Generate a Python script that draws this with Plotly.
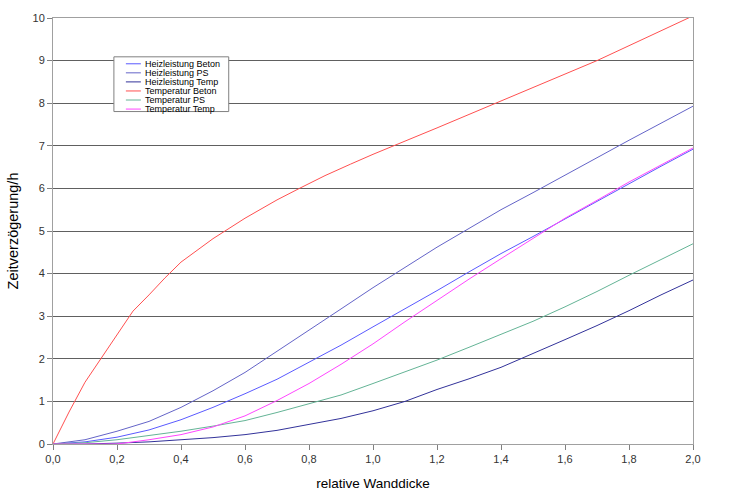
import plotly.graph_objects as go

x = [0.0, 0.1, 0.2, 0.3, 0.4, 0.5, 0.6, 0.7, 0.8, 0.9, 1.0, 1.1, 1.2, 1.3, 1.4, 1.5, 1.6, 1.7, 1.8, 1.9, 2.0]

heiz_beton = [0, 0.05, 0.16, 0.33, 0.57, 0.86, 1.18, 1.52, 1.92, 2.32, 2.75, 3.17, 3.6, 4.04, 4.47, 4.87, 5.28, 5.7, 6.12, 6.52, 6.92]
heiz_ps = [0, 0.1, 0.3, 0.53, 0.86, 1.25, 1.68, 2.17, 2.67, 3.17, 3.67, 4.15, 4.62, 5.06, 5.5, 5.9, 6.32, 6.72, 7.13, 7.53, 7.93]
heiz_temp = [0, 0.0, 0.02, 0.05, 0.1, 0.15, 0.22, 0.32, 0.46, 0.6, 0.78, 1.0, 1.28, 1.53, 1.8, 2.12, 2.45, 2.78, 3.13, 3.5, 3.85]

x_rb = [0.0, 0.05, 0.1, 0.15, 0.2, 0.25, 0.3, 0.35, 0.4, 0.45, 0.5, 0.6, 0.7, 0.77, 0.85, 0.93, 1.0, 1.2, 1.4, 1.6, 1.7, 1.8, 2.0]
temp_beton = [0, 0.75, 1.45, 2.0, 2.55, 3.12, 3.5, 3.9, 4.27, 4.55, 4.82, 5.3, 5.73, 6.0, 6.3, 6.57, 6.8, 7.42, 8.05, 8.68, 9.0, 9.35, 10.05]
temp_ps = [0, 0.03, 0.1, 0.2, 0.3, 0.42, 0.55, 0.74, 0.94, 1.15, 1.42, 1.7, 1.97, 2.27, 2.58, 2.88, 3.22, 3.58, 3.96, 4.33, 4.7]
temp_temp = [0, 0.0, 0.0, 0.1, 0.22, 0.4, 0.66, 1.02, 1.42, 1.87, 2.35, 2.87, 3.38, 3.87, 4.35, 4.83, 5.3, 5.72, 6.15, 6.55, 6.95]

names = ["Heizleistung Beton", "Heizleistung PS", "Heizleistung Temp",
         "Temperatur Beton", "Temperatur PS", "Temperatur Temp"]
colors = ["#5a5aff", "#6464c8", "#32329a", "#ff5050", "#64b496", "#ff46ff"]
xs = [x, x, x, x_rb, x, x]
ys = [heiz_beton, heiz_ps, heiz_temp, temp_beton, temp_ps, temp_temp]

fig = go.Figure()
for n, c, xx, yy in zip(names, colors, xs, ys):
    fig.add_trace(go.Scatter(x=xx, y=yy, name=n, mode="lines",
                             line=dict(color=c, width=1), showlegend=False))

W, H = 750, 501
L, R, T, B = 52, 57, 18, 55
pw, ph = W - L - R, H - T - B

def px(p):
    return (p - L) / pw

def py(p):
    return (H - B - p) / ph

shapes = [dict(type="rect", xref="paper", yref="paper",
               x0=px(113), x1=px(228), y0=py(112), y1=py(57),
               fillcolor="white", line=dict(color="#808080", width=1), layer="above")]
annotations = []
for i, (n, c) in enumerate(zip(names, colors)):
    yy = 64 + i * 9.1
    shapes.append(dict(type="line", xref="paper", yref="paper",
                       x0=px(125), x1=px(140), y0=py(yy), y1=py(yy),
                       line=dict(color=c, width=1), layer="above"))
    annotations.append(dict(xref="paper", yref="paper", x=px(142), y=py(yy),
                            text=n, showarrow=False, xanchor="left", yanchor="middle",
                            font=dict(family="Liberation Sans, Arial", size=9, color="#000")))

fig.update_layout(
    width=W, height=H,
    margin=dict(l=L, r=R, t=T, b=B),
    paper_bgcolor="white", plot_bgcolor="white",
    separators=",.",
    font=dict(family="Liberation Sans, Arial", color="#000"),
    shapes=shapes, annotations=annotations,
    xaxis=dict(range=[0, 2], dtick=0.2, tick0=0, tickformat=".1f",
               showgrid=False, zeroline=False, showline=True, mirror=True,
               linecolor="#a0a0a0", linewidth=1,
               ticks="outside", ticklen=5, tickcolor="#808080",
               tickfont=dict(size=11, color="#333"),
               title=dict(text="relative Wanddicke", font=dict(size=13.5), standoff=14)),
    yaxis=dict(range=[0, 10], dtick=1, tick0=0,
               showgrid=True, gridcolor="#606060", gridwidth=1,
               zeroline=False, showline=True, mirror=True,
               linecolor="#a0a0a0", linewidth=1,
               ticks="outside", ticklen=5, tickcolor="#808080",
               tickfont=dict(size=11, color="#333"),
               title=dict(text="Zeitverzögerung/h", font=dict(size=14.5), standoff=10)),
)

fig.write_html("out.html")
